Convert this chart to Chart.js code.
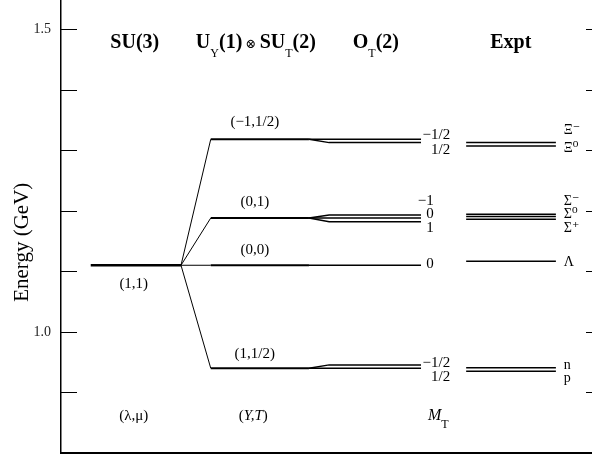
<!DOCTYPE html>
<html>
<head>
<meta charset="utf-8">
<script src="https://cdn.jsdelivr.net/npm/chart.js@4.4.1/dist/chart.umd.min.js"></script>
<style>
  html, body { margin: 0; padding: 0; background: #fff; overflow: hidden; }
  #wrap { position: relative; width: 592px; height: 458px; }
</style>
</head>
<body>
<div id="wrap"><canvas id="levels"></canvas></div>
<script>
// octet baryon levels (GeV)
const su3Energy = 1.110;
const ytNames = ['(\u22121,1/2)', '(0,1)', '(0,0)', '(1,1/2)'];
const ytEnergy = [1.318, 1.188, 1.110, 0.940];
const otEnergy = [[1.318, 1.3125], [1.193, 1.188, 1.182], [1.110], [0.9455, 0.940]];
const otMT = [['\u22121/2', '1/2'], ['\u22121', '0', '1'], ['0'], ['\u22121/2', '1/2']];
const exptEnergy = [[1.3125, 1.307], [1.1943, 1.1904, 1.1861], [1.1167], [0.9406, 0.9351]];
const exptNames = [['\u039E\u207B', '\u039E\u2070'], ['\u03A3\u207B', '\u03A3\u2070', '\u03A3\u207A'], ['\u039B'], ['n', 'p']];
const yTickValues = [0.9, 1.0, 1.1, 1.2, 1.3, 1.4, 1.5];
const yTickLabels = ['1.0', '1.5'];

// layout of the diagram (x in 0..100 units across the plot, y in GeV)
const X = { su3: [5.6, 22.6], fanEnd: 28.2, ytEnd: 46.7, otStart: 50.5, otEnd: 67.8, expt: [76.3, 93.2] };
const headerX = [13.9, 36.7, 59.3, 84.7];
const headerY = 1.469;
const ytLabelX = 36.5;
const ytLabelY = [1.3467, 1.2151, 1.1354, 0.9637];
const otLabelX = [73.3, 70.2, 70.2, 73.3];
const otLabelY = [[1.3252, 1.3005], [1.2163, 1.1948, 1.1717], [1.1123], [0.9488, 0.9257]];
const exptLabelX = 94.7;
const exptLabelY = [[1.3335, 1.3038], [1.2163, 1.1948, 1.1717], [1.1156], [0.9455, 0.924]];

const SERIF = '"Liberation Serif", "DejaVu Serif", serif';
const B20 = 'bold 20px ' + SERIF, R12 = '12px ' + SERIF, R15 = '15px ' + SERIF;

let datasets = [];
function seg(points, w) {
  datasets.push({ data: points, borderColor: '#000', borderWidth: w, pointRadius: 0,
    fill: false, tension: 0, borderCapStyle: 'butt' });
}
seg([{x: X.su3[0], y: su3Energy}, {x: X.su3[1], y: su3Energy}], 2.5);
ytEnergy.forEach((e, i) => {
  seg([{x: X.su3[1], y: su3Energy}, {x: X.fanEnd, y: e}], 1);
  seg([{x: X.fanEnd, y: e}, {x: X.ytEnd, y: e}], 2);
  otEnergy[i].forEach(m => seg([{x: X.ytEnd, y: e}, {x: X.otStart, y: m}, {x: X.otEnd, y: m}], 1.5));
  exptEnergy[i].forEach(m => seg([{x: X.expt[0], y: m}, {x: X.expt[1], y: m}], 1.5));
});

// text made of pieces with own font and vertical shift
function rich(ctx, parts, x, y, align) {
  let total = 0;
  parts.forEach(p => { ctx.font = p[1]; total += ctx.measureText(p[0]).width; });
  let cx = align === 'center' ? x - total / 2 : (align === 'right' ? x - total : x);
  ctx.textAlign = 'left';
  parts.forEach(p => {
    ctx.font = p[1];
    ctx.fillText(p[0], cx, y + (p[2] || 0));
    cx += ctx.measureText(p[0]).width;
  });
}

const diagramText = {
  id: 'diagramText',
  afterDraw(chart) {
    const {ctx, chartArea: a, scales: {x, y}} = chart;
    ctx.save();
    // inward ticks both sides
    ctx.strokeStyle = '#000';
    ctx.lineWidth = 1.2;
    ctx.beginPath();
    yTickValues.forEach(v => {
      const py = Math.round(y.getPixelForValue(v)) + 0.5;
      ctx.moveTo(a.left, py); ctx.lineTo(a.left + 16, py);
      ctx.moveTo(a.right - 6, py); ctx.lineTo(a.right, py);
    });
    ctx.stroke();

    ctx.fillStyle = '#000';
    // axis title
    ctx.save();
    ctx.translate(22, y.getPixelForValue(1.148));
    ctx.rotate(-Math.PI / 2);
    ctx.textAlign = 'center';
    ctx.textBaseline = 'middle';
    ctx.font = '21px ' + SERIF;
    ctx.fillText('Energy (GeV)', 0, 0);
    ctx.restore();

    // column headers
    ctx.textBaseline = 'alphabetic';
    const hy = y.getPixelForValue(headerY);
    rich(ctx, [['SU(3)', B20]], x.getPixelForValue(headerX[0]), hy, 'center');
    rich(ctx, [['U', B20], ['Y', R12, 9], ['(1)', B20], [' \u2297 ', '13px ' + SERIF], ['SU', B20], ['T', R12, 9], ['(2)', B20]],
      x.getPixelForValue(headerX[1]), hy, 'center');
    rich(ctx, [['O', B20], ['T', R12, 9], ['(2)', B20]], x.getPixelForValue(headerX[2]), hy, 'center');
    rich(ctx, [['Expt', B20]], x.getPixelForValue(headerX[3]), hy, 'center');

    // quantum number labels
    ctx.textBaseline = 'middle';
    rich(ctx, [['(1,1)', R15]], x.getPixelForValue(13.7), y.getPixelForValue(1.0792), 'center');
    ytNames.forEach((t, i) => rich(ctx, [[t, R15]], x.getPixelForValue(ytLabelX), y.getPixelForValue(ytLabelY[i]), 'center'));
    otMT.forEach((list, i) => list.forEach((t, j) =>
      rich(ctx, [[t, R15]], x.getPixelForValue(otLabelX[i]), y.getPixelForValue(otLabelY[i][j]), 'right')));
    exptNames.forEach((list, i) => list.forEach((t, j) =>
      rich(ctx, [[t, '14px ' + SERIF]], x.getPixelForValue(exptLabelX), y.getPixelForValue(exptLabelY[i][j]), 'left')));

    const by = y.getPixelForValue(0.8613);
    rich(ctx, [['(\u03BB,\u03BC)', R15]], x.getPixelForValue(13.7), by, 'center');
    rich(ctx, [['(', R15], ['Y,T', 'italic ' + R15], [')', R15]], x.getPixelForValue(36.2), by, 'center');
    rich(ctx, [['M', 'italic 16px ' + SERIF], ['T', R12, 9]], x.getPixelForValue(69.1), by, 'left');
    ctx.restore();
  }
};

new Chart(document.getElementById('levels'), {
  type: 'line',
  data: { datasets: datasets },
  options: {
    responsive: true,
    maintainAspectRatio: false,
    animation: false,
    layout: { padding: { top: 0, right: 0, bottom: 5, left: 0 } },
    plugins: { legend: { display: false }, tooltip: { enabled: false } },
    scales: {
      x: {
        type: 'linear', min: 0, max: 100,
        ticks: { display: false },
        grid: { display: false, drawTicks: false },
        border: { display: true, color: '#000', width: 2 },
        afterFit: s => { s.height = 0; s.paddingLeft = 0; s.paddingRight = 0; }
      },
      y: {
        type: 'linear', min: 0.8, max: 1.548,
        afterBuildTicks: s => { s.ticks = yTickValues.map(v => ({ value: v })); },
        ticks: {
          padding: 10,
          color: '#222',
          font: { family: SERIF, size: 14 },
          callback: v => yTickLabels.includes(v.toFixed(1)) ? v.toFixed(1) : null
        },
        grid: { display: false, drawTicks: false },
        border: { display: true, color: '#000', width: 1.5 },
        afterFit: s => { s.width = 61; s.paddingTop = 0; s.paddingBottom = 0; }
      }
    }
  },
  plugins: [diagramText]
});
</script>
</body>
</html>
